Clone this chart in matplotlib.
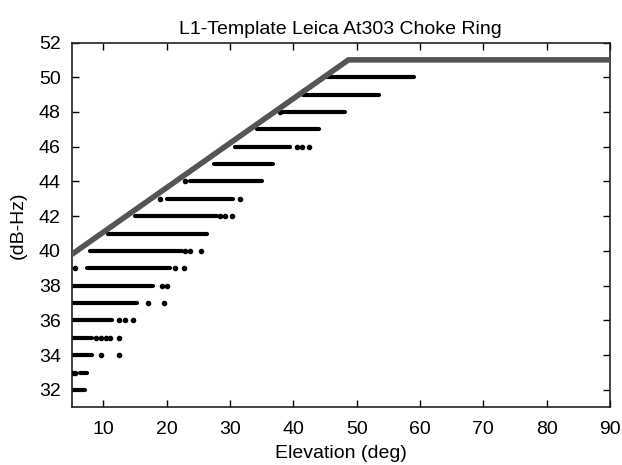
import numpy as np
import matplotlib.pyplot as plt

plt.rcParams['font.family'] = ['Liberation Sans', 'DejaVu Sans']

# template curve (elevation deg, C/N0 dB-Hz)
tmpl_elev = [5, 48.7, 90]
tmpl_cn0 = [39.8, 51.0, 51.0]

# observed C/N0 levels: dense run of points from start to end elevation
levels = [32, 33, 34, 35, 36, 37, 38, 39, 40, 41, 42, 43, 44, 45, 46, 47, 48, 49, 50]
run_start = [5.0, 6.3, 5.0, 5.0, 5.0, 5.0, 5.2, 7.4, 7.9, 10.8, 15.0, 20.0, 23.7, 27.4, 30.8, 34.2, 38.4, 41.6, 45.3]
run_end = [7.1, 7.4, 8.2, 8.2, 11.3, 15.3, 17.9, 20.5, 22.4, 26.3, 27.9, 30.5, 35.0, 36.8, 39.5, 44.0, 48.2, 53.5, 59.0]

# scattered single points
iso_elev = [5.0, 5.5, 9.7, 12.4, 8.9, 9.7, 10.4, 11.1, 12.4, 12.5, 13.4, 14.6,
            17.0, 19.6, 19.2, 20.0, 5.5, 21.3, 22.7, 22.9, 23.6, 25.4,
            28.4, 29.2, 30.3, 19.0, 31.6, 22.9, 40.5, 41.3, 42.5, 37.9]
iso_cn0 = [33, 33, 34, 34, 35, 35, 35, 35, 35, 36, 36, 36,
           37, 37, 38, 38, 39, 39, 39, 40, 40, 40,
           42, 42, 42, 43, 43, 44, 46, 46, 46, 48]

fig = plt.figure(figsize=(6.22, 4.65), dpi=100)
ax = fig.add_axes([0.1153, 0.1241, 0.8654, 0.7845])

ax.hlines(levels, run_start, run_end, colors='black', linewidth=3.0, capstyle='round')
ax.scatter(iso_elev, iso_cn0, s=9, color='black', zorder=3)
ax.plot(tmpl_elev, tmpl_cn0, color='#555555', linewidth=4.0, solid_joinstyle='miter', zorder=4)

ax.set_xlim(5, 90)
ax.set_ylim(31, 52)
ax.set_xticks(np.arange(10, 91, 10))
ax.set_yticks(np.arange(32, 53, 2))
ax.tick_params(direction='in', top=True, right=True, length=5, width=1, labelsize=14, pad=8)
ax.tick_params(axis='x', pad=10)
for s in ax.spines.values():
    s.set_linewidth(1.2)
    s.set_color('#222222')

ax.set_xlabel('Elevation (deg)', fontsize=14, labelpad=5)
ax.set_ylabel('(dB-Hz)', fontsize=14)
ax.yaxis.set_label_coords(-0.083, 0.5)
ax.set_title('L1-Template Leica At303 Choke Ring', fontsize=14, pad=6)

fig.savefig('out.png', dpi=100)
